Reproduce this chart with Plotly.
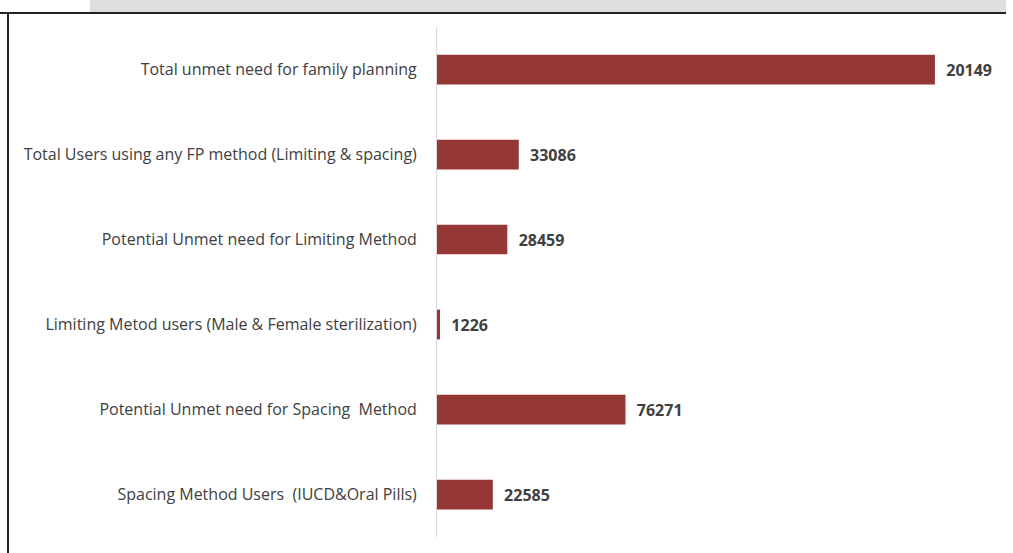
import plotly.graph_objects as go

categories = [
    "Total unmet need for family planning",
    "Total Users using any FP method (Limiting & spacing)",
    "Potential Unmet need for Limiting Method",
    "Limiting Metod users (Male & Female sterilization)",
    "Potential Unmet need for Spacing  Method",
    "Spacing Method Users  (IUCD&Oral Pills)",
]
values = [201491, 33086, 28459, 1226, 76271, 22585]

W, H = 1013, 553
L, R, T, B = 437, 20, 27, 16


def px_x(px):
    return (px - L) / (W - L - R)


def px_y(py):
    return (H - B - py) / (H - T - B)


fig = go.Figure(
    go.Bar(
        x=values,
        y=categories,
        orientation="h",
        marker=dict(color="#953735", line=dict(width=0)),
        text=["\u00a0\u00a0" + str(v) for v in values],
        textposition="outside",
        textfont=dict(family="Open Sans, Arial", size=16, color="#404040", weight="bold"),
        cliponaxis=True,
        constraintext="none",
        width=0.35,
    )
)

fig.update_layout(
    width=W,
    height=H,
    margin=dict(l=L, r=R, t=T, b=B),
    plot_bgcolor="white",
    paper_bgcolor="white",
    showlegend=False,
    font=dict(family="Open Sans, Arial", size=16, color="#404040"),
    shapes=[
        dict(type="rect", xref="paper", yref="paper",
             x0=px_x(90), x1=px_x(1006), y0=px_y(12), y1=px_y(0),
             fillcolor="#dedede", line=dict(width=0), layer="below"),
        dict(type="line", xref="paper", yref="paper",
             x0=px_x(0), x1=px_x(1006), y0=px_y(13), y1=px_y(13),
             line=dict(color="#222222", width=2)),
        dict(type="line", xref="paper", yref="paper",
             x0=px_x(8), x1=px_x(8), y0=px_y(13), y1=px_y(553),
             line=dict(color="#222222", width=2)),
    ],
)

fig.update_xaxes(range=[0, 225000], visible=False, showgrid=False, zeroline=False)
fig.update_yaxes(
    autorange="reversed",
    showline=True,
    linecolor="#d9d9d9",
    linewidth=1,
    ticks="",
    ticklabelstandoff=16,
    showgrid=False,
)

fig.write_html(
    "out.html",
    config={"displayModeBar": False},
    post_script="document.body.style.margin='0';document.body.style.padding='0';",
)
